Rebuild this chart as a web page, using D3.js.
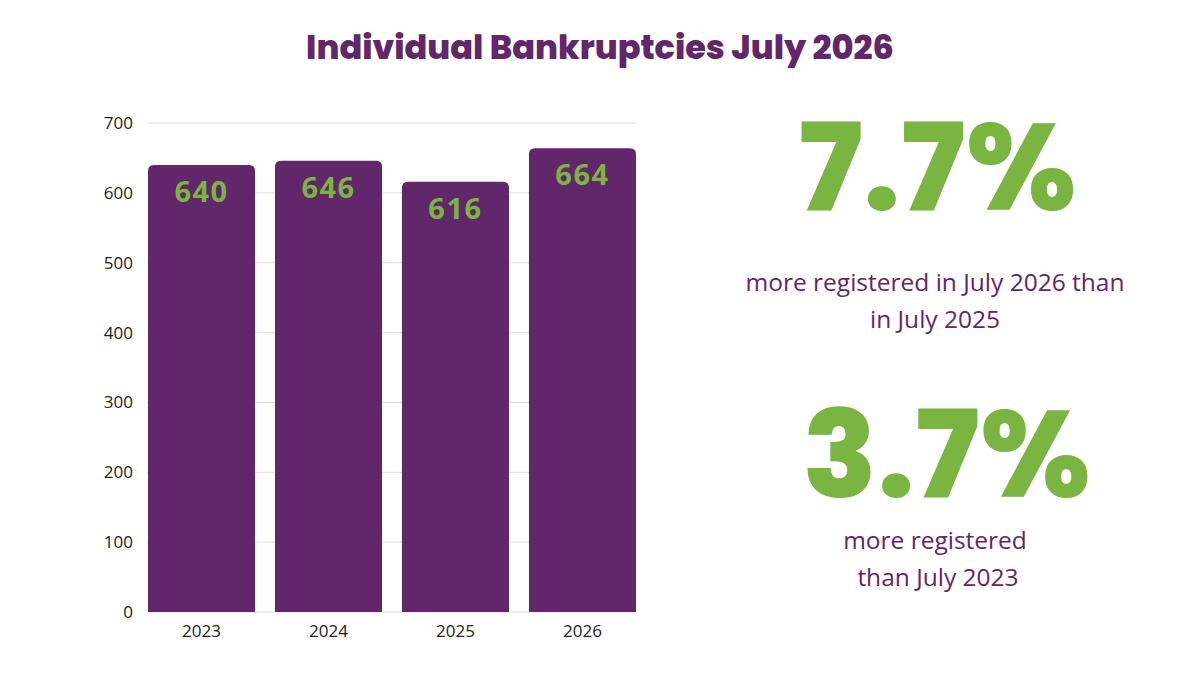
<!DOCTYPE html>
<html><head><meta charset="utf-8">
<script src="https://cdn.jsdelivr.net/npm/d3@7"></script>
<style>body{margin:0;background:#fff}svg{display:block}</style>
</head><body><svg width="1200" height="675"></svg>
<script>
const years=["2023","2024","2025","2026"];
const values=[640,646,616,664];
const yTicks=[0,100,200,300,400,500,600,700];
const purple="#62266a", green="#7ab441";
const svg=d3.select("svg");
svg.append("text").attr("x",600).attr("y",59).attr("text-anchor","middle")
 .attr("font-family","Poppins, 'Open Sans', sans-serif").attr("font-weight",800)
 .attr("font-size",33.5).attr("fill",purple).text("Individual Bankruptcies July 2026");
const x=d3.scaleBand().domain(years).range([148,636]).paddingInner(0.157).paddingOuter(0);
const y=d3.scaleLinear().domain([0,700]).range([612,123]);
svg.append("g").selectAll("line").data(yTicks).join("line")
 .attr("x1",147).attr("x2",636).attr("y1",d=>y(d)).attr("y2",d=>y(d)).attr("stroke","#dedede");
svg.append("g").selectAll("text").data(yTicks).join("text")
 .attr("x",133).attr("y",d=>y(d)+6).attr("text-anchor","end").attr("font-family","'Open Sans',sans-serif")
 .attr("font-size",17).attr("fill","#222").text(d=>d);
const r=6;
svg.append("g").selectAll("path").data(years).join("path").attr("fill",purple)
 .attr("d",(d,i)=>{const x0=x(d),x1=x0+x.bandwidth(),t=y(values[i]),b=y(0);
  return `M${x0},${b}V${t+r}Q${x0},${t} ${x0+r},${t}H${x1-r}Q${x1},${t} ${x1},${t+r}V${b}Z`;});
svg.append("g").selectAll("text").data(years).join("text")
 .attr("x",d=>x(d)+x.bandwidth()/2).attr("y",(d,i)=>y(values[i])+37).attr("text-anchor","middle")
 .attr("font-family","'Open Sans',sans-serif").attr("font-weight",700).attr("font-size",29)
 .attr("letter-spacing",1.5).attr("fill",green).text((d,i)=>values[i]);
svg.append("g").selectAll("text").data(years).join("text")
 .attr("x",d=>x(d)+x.bandwidth()/2).attr("y",637).attr("text-anchor","middle")
 .attr("font-family","'Open Sans',sans-serif").attr("font-size",17).attr("fill","#222").text(d=>d);
const big=[["7.7%",938,210],["3.7%",947,497]];
big.forEach(([t,cx,cy])=>svg.append("text").attr("x",cx).attr("y",cy).attr("text-anchor","middle")
 .attr("font-family","Poppins,'Open Sans',sans-serif").attr("font-weight",800).attr("font-size",122)
 .attr("fill",green).attr("letter-spacing",1).text(t));
const lines=[["more registered in July 2026 than",935,291],["in July 2025",935,328],["more registered",935,549],["than July 2023",938,586]];
lines.forEach(([t,cx,cy])=>svg.append("text").attr("x",cx).attr("y",cy).attr("text-anchor","middle")
 .attr("font-family","'Open Sans',sans-serif").attr("font-size",24.5).attr("fill",purple).text(t));
</script></body></html>
